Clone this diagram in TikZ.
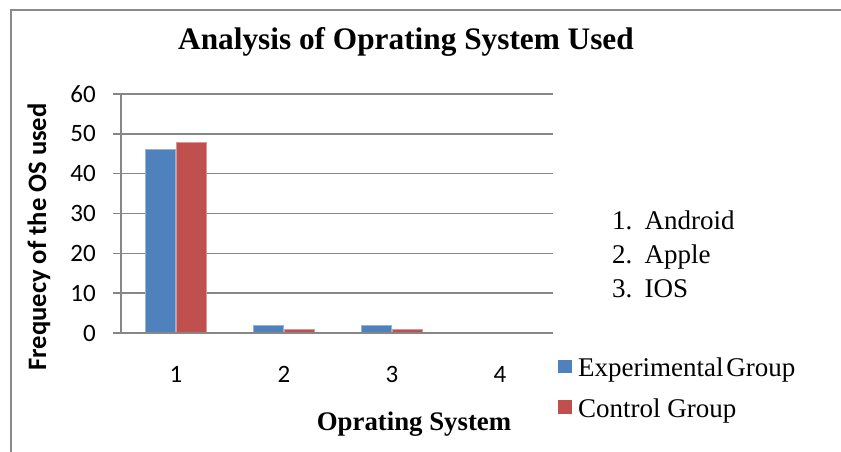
\documentclass[tikz,border=0pt]{standalone}
\usepackage{fontspec}
\setmainfont{Liberation Serif}
\newfontfamily\calfont{Carlito}
\definecolor{gridgray}{HTML}{878787}
\definecolor{framegray}{HTML}{8A8A8A}
\definecolor{barblue}{HTML}{4F81BD}
\definecolor{barred}{HTML}{C0504D}
\tikzset{
  gridline/.style={draw=gridgray, line width=1.6pt},
  ticklab/.style={font=\calfont\fontsize{25}{28}\selectfont, inner sep=0pt},
  bluebar/.style={fill=barblue, draw=barblue!60!white, line width=0.6pt},
  redbar/.style={fill=barred, draw=barred!60!white, line width=0.6pt},
  legtext/.style={font=\fontsize{27}{30}\selectfont, inner sep=0pt, anchor=base west},
}
\begin{document}
\begin{tikzpicture}[x=1pt,y=-1pt]
\useasboundingbox (0,0) rectangle (841,452);
\fill[white] (0,0) rectangle (841,452);
% frame
\draw[framegray, line width=2pt] (11,460) -- (11,10) -- (850,10);
% gridlines
\foreach \v in {10,20,30,40,50,60}{
  \draw[gridline] (113,{333-\v*3.983}) -- (553,{333-\v*3.983});
  \node[ticklab, anchor=base east] (t\v) at (96,{333-\v*3.983+8}) {\v};
}
\node[ticklab, anchor=base east] (t0) at (96,341) {0};
% bars
\fill[bluebar] (145,333) rectangle (175,{333-46*3.983});
\fill[redbar] (176,333) rectangle (206,{333-48*3.983});
\fill[bluebar] (253,333) rectangle (283,{333-2*3.983});
\fill[redbar] (284,333) rectangle (314,{333-1*3.983});
\fill[bluebar] (361,333) rectangle (391,{333-2*3.983});
\fill[redbar] (392,333) rectangle (422,{333-1*3.983});
% axes
\draw[gridline] (113,333) -- (553,333);
\draw[gridline] (121,94) -- (121,333);
% x labels
\node[ticklab, anchor=base] (x1) at (176,382) {1};
\node[ticklab, anchor=base] (x2) at (284,382) {2};
\node[ticklab, anchor=base] (x3) at (392,382) {3};
\node[ticklab, anchor=base] (x4) at (500,382) {4};
% titles
\node[font=\bfseries\fontsize{31.3}{34}\selectfont, inner sep=0pt, anchor=base] (title) at (406,50) {Analysis of Oprating System Used};
\node[font=\bfseries\fontsize{26.8}{30}\selectfont, inner sep=0pt, anchor=base] (xtitle) at (414,430) {Oprating System};
\node[font=\calfont\bfseries\fontsize{26.6}{30}\selectfont, inner sep=0pt, rotate=90] (ytitle) at (39,237) {Frequecy of the OS used};
% OS legend
\node[legtext] (os1) at (612,229) {1.\hspace{0.45em}Android};
\node[legtext] (os2) at (612,263) {2.\hspace{0.45em}Apple};
\node[legtext] (os3) at (612,297) {3.\hspace{0.45em}IOS};
% series legend
\fill[barblue] (558,360) rectangle (572,373);
\node[legtext] (lexp) at (578,376) {Experimental\hspace{0.1em}Group};
\fill[barred] (558,400) rectangle (572,414);
\node[legtext] (lctl) at (578,417) {Control Group};
\end{tikzpicture}
\end{document}
